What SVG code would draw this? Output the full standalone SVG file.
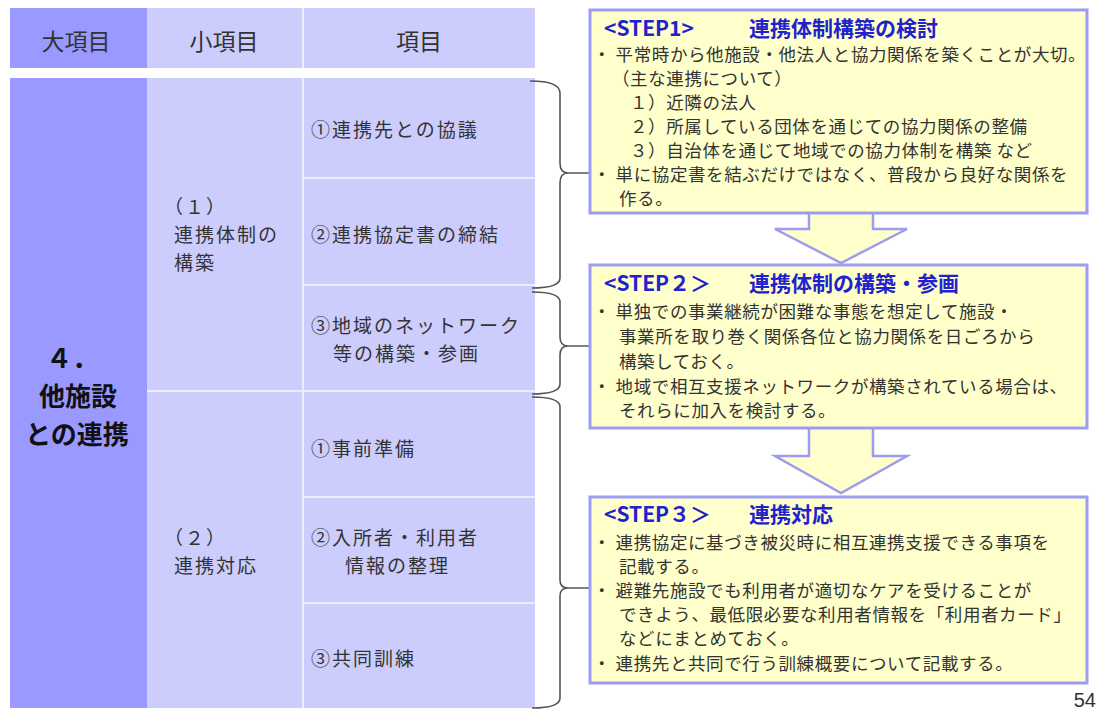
<svg xmlns="http://www.w3.org/2000/svg" width="1099" height="710" viewBox="0 0 1099 710">
<style>
text{font-family:"Noto Sans CJK JP","Noto Sans",sans-serif;fill:#333;}
.hd{font-size:23px;text-anchor:middle;dominant-baseline:central;}
.cell{font-size:19px;letter-spacing:2px;dominant-baseline:central;}
.big{font-size:26px;font-weight:bold;text-anchor:middle;dominant-baseline:central;fill:#111;}
.ttl{font-size:21px;font-weight:bold;fill:#2222cc;dominant-baseline:central;}
.bt{font-size:17.5px;dominant-baseline:central;letter-spacing:0.6px;}
.box{fill:#ffffcc;stroke:#9c9cf0;stroke-width:3;}
.arrf{fill:#ffffcc;stroke:none;}
.arrs{fill:none;stroke:#9c9cf0;stroke-width:2.5;stroke-linejoin:miter;}
.brace{fill:none;stroke:#555;stroke-width:1.6;}
.dk{fill:#9999ff;}
.lt{fill:#ccccfd;}
.div{stroke:#ececff;stroke-width:2;}
</style>
<rect width="1099" height="710" fill="#ffffff"/>

<g id="header">
<rect class="dk" x="10" y="8" width="137" height="60"/>
<rect class="lt" x="147" y="8" width="388" height="60"/>
<line class="div" x1="303" y1="8" x2="303" y2="68"/>
<text class="hd" x="76" y="40">大項目</text>
<text class="hd" x="224" y="40">小項目</text>
<text class="hd" x="419" y="40">項目</text>
</g>

<g id="major">
<rect class="dk" x="10" y="78" width="137" height="630"/>
<text class="big" x="72" y="356">４．</text>
<text class="big" x="78" y="394">他施設</text>
<text class="big" x="77" y="432">との連携</text>
</g>

<g id="sub1">
<rect class="lt" x="147" y="78" width="156" height="313"/>
<text class="cell" x="164" y="205">（１）</text>
<text class="cell" x="174" y="233">連携体制の</text>
<text class="cell" x="174" y="261">構築</text>
</g>
<g id="sub2">
<rect class="lt" x="147" y="391" width="156" height="317"/>
<text class="cell" x="164" y="536">（２）</text>
<text class="cell" x="174" y="564">連携対応</text>
</g>

<g id="item1-1"><rect class="lt" x="303" y="78" width="232" height="100"/><text class="cell" x="311" y="128">①連携先との協議</text></g>
<g id="item1-2"><rect class="lt" x="303" y="178" width="232" height="107"/><text class="cell" x="311" y="233">②連携協定書の締結</text></g>
<g id="item1-3"><rect class="lt" x="303" y="285" width="232" height="106"/><text class="cell" x="311" y="324">③地域のネットワーク</text><text class="cell" x="333" y="352">等の構築・参画</text></g>
<g id="item2-1"><rect class="lt" x="303" y="391" width="232" height="106"/><text class="cell" x="311" y="447">①事前準備</text></g>
<g id="item2-2"><rect class="lt" x="303" y="497" width="232" height="106"/><text class="cell" x="311" y="536">②入所者・利用者</text><text class="cell" x="345" y="564">情報の整理</text></g>
<g id="item2-3"><rect class="lt" x="303" y="603" width="232" height="105"/><text class="cell" x="311" y="657">③共同訓練</text></g>

<g id="dividers">
<line class="div" x1="303" y1="78" x2="303" y2="708"/>
<line class="div" x1="303" y1="178" x2="535" y2="178"/>
<line class="div" x1="303" y1="285" x2="535" y2="285"/>
<line class="div" x1="147" y1="391" x2="535" y2="391"/>
<line class="div" x1="303" y1="497" x2="535" y2="497"/>
<line class="div" x1="303" y1="603" x2="535" y2="603"/>
</g>

<g id="connectors">
<path class="brace" d="M530,81 Q560,81 560,93 L560,163 Q560,173 568,173 L590,173 M568,173 Q560,173 560,183 L560,278 Q560,288 532,288"/>
<path class="brace" d="M532,292 Q560,292 560,302 L560,337 Q560,346 568,346 L590,346 M568,346 Q560,346 560,355 L560,384 Q560,394 532,394"/>
<path class="brace" d="M532,397 Q560,397 560,407 L560,580 Q560,588 568,588 L590,588 M568,588 Q560,588 560,596 L560,698 Q560,708 532,708"/>
<polygon class="arrf" points="809,210 809,229 775,229 841,263 907,229 873,229 873,210"/>
<polyline class="arrs" points="809,213 809,229 775,229 841,263 907,229 873,229 873,213"/>
<polygon class="arrf" points="809,425 809,456 775,456 841,493 907,456 873,456 873,425"/>
<polyline class="arrs" points="809,428 809,456 775,456 841,493 907,456 873,456 873,428"/>
</g>

<g id="step1">
<rect class="box" x="590" y="10" width="497" height="203"/>
<text class="ttl" x="604" y="27">&lt;STEP1&gt;</text>
<text class="ttl" x="749" y="27">連携体制構築の検討</text>
<text class="bt" x="593" y="53">・ 平常時から他施設・他法人と協力関係を築くことが大切。</text>
<text class="bt" x="612" y="77">（主な連携について）</text>
<text class="bt" x="630" y="101">１）近隣の法人</text>
<text class="bt" x="630" y="125">２）所属している団体を通じての協力関係の整備</text>
<text class="bt" x="630" y="149">３）自治体を通じて地域での協力体制を構築 など</text>
<text class="bt" x="593" y="173">・ 単に協定書を結ぶだけではなく、普段から良好な関係を</text>
<text class="bt" x="619" y="197">作る。</text>
</g>

<g id="step2">
<rect class="box" x="590" y="265" width="497" height="163"/>
<text class="ttl" x="604" y="282">&lt;STEP２＞</text>
<text class="ttl" x="749" y="282">連携体制の構築・参画</text>
<text class="bt" x="593" y="310">・ 単独での事業継続が困難な事態を想定して施設・</text>
<text class="bt" x="619" y="335">事業所を取り巻く関係各位と協力関係を日ごろから</text>
<text class="bt" x="619" y="360">構築しておく。</text>
<text class="bt" x="593" y="385">・ 地域で相互支援ネットワークが構築されている場合は、</text>
<text class="bt" x="619" y="409">それらに加入を検討する。</text>
</g>

<g id="step3">
<rect class="box" x="590" y="497" width="497" height="186"/>
<text class="ttl" x="604" y="513">&lt;STEP３＞</text>
<text class="ttl" x="749" y="513">連携対応</text>
<text class="bt" x="593" y="541">・ 連携協定に基づき被災時に相互連携支援できる事項を</text>
<text class="bt" x="619" y="565">記載する。</text>
<text class="bt" x="593" y="589">・ 避難先施設でも利用者が適切なケアを受けることが</text>
<text class="bt" x="619" y="613">できよう、最低限必要な利用者情報を「利用者カード」</text>
<text class="bt" x="619" y="637">などにまとめておく。</text>
<text class="bt" x="593" y="662">・ 連携先と共同で行う訓練概要について記載する。</text>
</g>

<text x="1096" y="707" style="font-family:'Liberation Sans',sans-serif;font-size:20px;text-anchor:end;fill:#333">54</text>
</svg>
